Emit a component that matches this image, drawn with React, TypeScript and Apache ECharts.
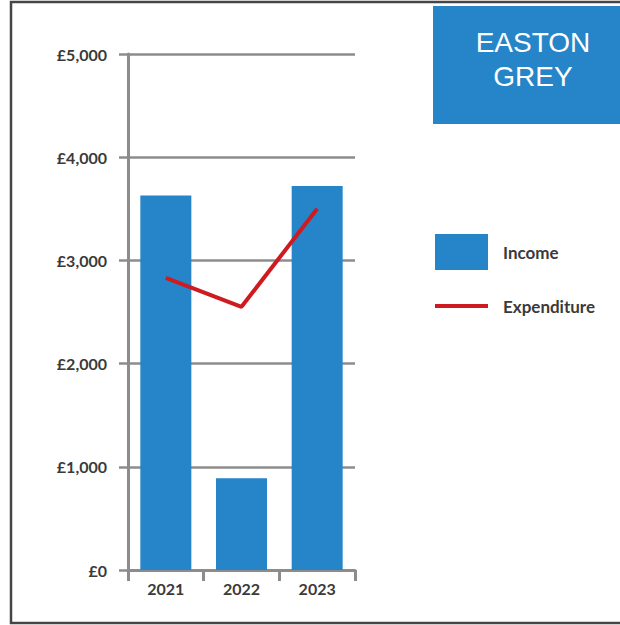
import React, { useEffect, useRef } from "react";
import * as echarts from "echarts";

const years = ["2021", "2022", "2023"];
const income = [3630, 890, 3720];
const expenditure = [2830, 2550, 3500];
const yTicks = { min: 0, max: 5000, interval: 1000 };
const titleLines = ["EASTON", "GREY"];

const BLUE = "#2585C8";
const RED = "#CE1B1F";
const GRAY = "#8C8C8C";
const TEXT = "#3A3A3A";
const FONT = "Lato, 'Open Sans', sans-serif";

export default function App() {
  const ref = useRef<HTMLDivElement>(null);
  useEffect(() => {
    if (!ref.current) return;
    const chart = echarts.init(ref.current, undefined, { renderer: "svg" });
    chart.setOption({
      animation: false,
      backgroundColor: "#ffffff",
      grid: { left: 128, right: 265, top: 54, bottom: 55, containLabel: false },
      xAxis: {
        type: "category",
        data: years,
        axisLine: { lineStyle: { color: GRAY, width: 3 } },
        axisTick: { show: true, length: 11, lineStyle: { color: GRAY, width: 3 } },
        axisLabel: { color: TEXT, fontFamily: FONT, fontWeight: "bold", fontSize: 16, margin: 10 },
      },
      yAxis: {
        type: "value",
        min: yTicks.min,
        max: yTicks.max,
        interval: yTicks.interval,
        axisLine: { show: true, lineStyle: { color: GRAY, width: 3 } },
        axisTick: { show: true, length: 9, lineStyle: { color: GRAY, width: 2.5 } },
        splitLine: { show: true, lineStyle: { color: GRAY, width: 2.5 } },
        axisLabel: {
          color: TEXT,
          fontFamily: FONT,
          fontWeight: "bold",
          fontSize: 16,
          margin: 21,
          formatter: (v: number) => "£" + v.toLocaleString("en-GB"),
        },
      },
      legend: [
        {
          data: [{ name: "Income", icon: "rect" }],
          left: 435,
          top: 234,
          padding: 0,
          itemWidth: 53,
          itemHeight: 36,
          textStyle: { color: TEXT, fontFamily: FONT, fontWeight: "bold", fontSize: 17, padding: [0, 0, 0, 10] },
          selectedMode: false,
        },
        {
          data: [{ name: "Expenditure", icon: "rect" }],
          left: 435,
          top: 296,
          padding: 0,
          itemWidth: 53,
          itemHeight: 4,
          textStyle: { color: TEXT, fontFamily: FONT, fontWeight: "bold", fontSize: 17, lineHeight: 20, padding: [0, 0, 0, 10] },
          selectedMode: false,
        },
      ],
      graphic: [
        {
          type: "rect",
          shape: { x: 11, y: 2, width: 700, height: 621 },
          style: { fill: "none", stroke: "#454545", lineWidth: 2.5 },
          silent: true,
        },
        {
          type: "rect",
          shape: { x: 433, y: 6, width: 200, height: 118 },
          style: { fill: BLUE },
          silent: true,
        },
        {
          type: "text",
          x: 533,
          y: 42,
          style: {
            text: titleLines[0],
            fill: "#ffffff",
            font: "28px 'Liberation Sans', Arial, sans-serif",
            textAlign: "center",
            textVerticalAlign: "middle",
          },
        },
        {
          type: "text",
          x: 533,
          y: 76,
          style: {
            text: titleLines[1],
            fill: "#ffffff",
            font: "28px 'Liberation Sans', Arial, sans-serif",
            textAlign: "center",
            textVerticalAlign: "middle",
          },
        },
      ],
      series: [
        {
          name: "Income",
          type: "bar",
          data: income,
          barWidth: 51,
          itemStyle: { color: BLUE },
          z: 2,
        },
        {
          name: "Expenditure",
          type: "line",
          data: expenditure,
          symbol: "none",
          itemStyle: { color: RED },
          lineStyle: { color: RED, width: 4 },
          z: 3,
        },
      ],
    });
    return () => chart.dispose();
  }, []);
  return (
    <div
      ref={ref}
      style={{ position: "fixed", left: 0, top: 0, width: 620, height: 625 }}
    />
  );
}
